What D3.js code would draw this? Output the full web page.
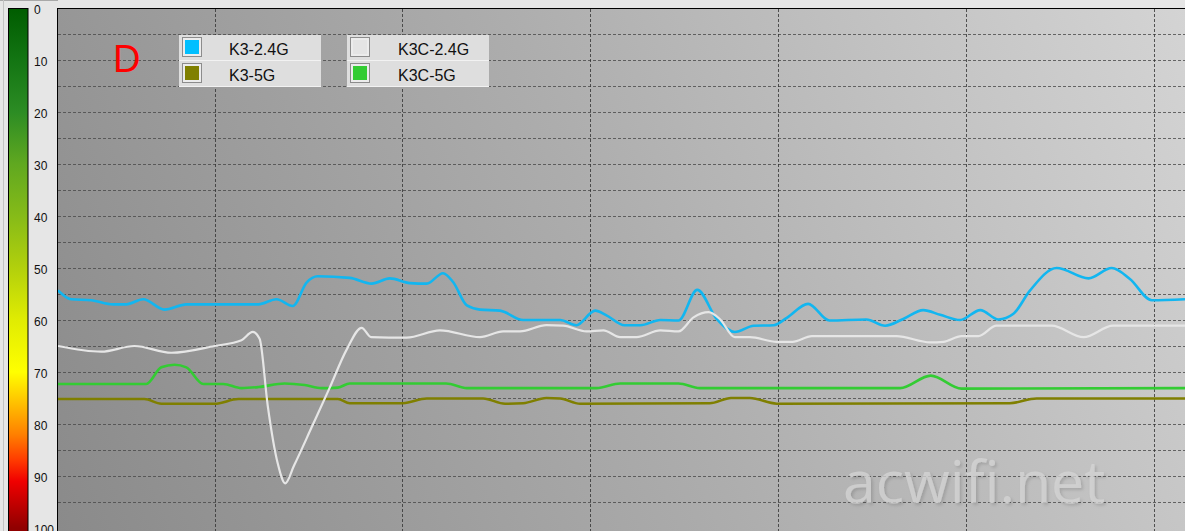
<!DOCTYPE html>
<html><head><meta charset="utf-8">
<script src="https://cdn.jsdelivr.net/npm/d3@7/dist/d3.min.js"></script>
<style>html,body{margin:0;padding:0;background:#e6e6e6;overflow:hidden}svg{display:block}</style>
</head><body><svg id="c" width="1185" height="531"></svg>
<script>
// ---- data (time in s, signal value) ----
const seriesNames = ["K3-2.4G", "K3C-2.4G", "K3-5G", "K3C-5G"];
const yTickLabels = [0, 10, 20, 30, 40, 50, 60, 70, 80, 90, 100];
const yGridValues = [5,10,15,20,25,30,35,40,45,50,55,60,65,70,75,80,85,90,95];
const xGridTimes = [30, 60, 90, 120, 150, 180];
const panelLabel = "D";
const watermark = "acwifi.net";

const k3_24 = [[5,54.3],[7.1,56],[10.3,56.2],[13.8,57],[15.9,57],[18.6,56],[22,58],[25.5,57],[37,57],[39.9,56],[42.5,57.3],[44.7,52.8],[46.5,51.6],[51.6,51.9],[55.1,53],[58,52],[61.2,52.9],[63.9,53],[66.5,51],[68.1,52.7],[70.3,57.2],[72.4,58],[75.6,58.2],[79.3,60],[85.2,60],[87.8,61],[90.8,58.2],[92.6,59.1],[95.5,61],[98,61],[101.2,60],[104.1,60.1],[107.1,54.2],[110.2,59.8],[113.1,62.3],[116.1,61.1],[119.3,61],[121.4,59.6],[124.8,56.9],[128.2,60.1],[134.1,59.9],[137.1,61.1],[140,59.8],[143.2,58.1],[145.9,59],[149.1,60],[152.3,58.1],[155.2,59.9],[157.6,58.8],[160.2,54.4],[164.5,50],[169.6,52],[173.3,50],[176.2,52.1],[179.7,56.2],[185,56]];
const k3c_24 = [[5,65],[11.9,66.1],[17.2,65],[23.1,66.3],[30,65],[34.3,63.9],[36.1,62.3],[37.2,63.6],[38.5,76.5],[40.1,87.6],[41.3,91.4],[42.7,88],[45.6,80.4],[48.4,73],[51.1,65.7],[53.5,61.5],[55,63.3],[60.7,63.4],[66,62],[72.4,63.3],[76.1,62.2],[78.8,62.2],[83,61],[85.7,61.1],[89.4,62.2],[92.1,62],[94.8,63.3],[97.4,63.3],[101.2,62],[104.1,62.2],[106.5,59.5],[108.9,58.5],[110.7,59.8],[113.1,63.3],[115.5,63.3],[119.8,64.2],[122.3,64.2],[125.4,63.1],[138.9,63.1],[144.3,64.3],[146.4,64.2],[149.3,63.1],[152,63.1],[154.9,61.1],[163.7,61.1],[168.8,63.3],[173.5,61.1],[185,61.1]];
const k3_5 = [[5,75.2],[18.8,75.2],[21.5,76.1],[30,76.1],[33.8,75.2],[49.7,75.2],[51.6,76],[60.1,76],[63.9,75.1],[72.9,75.1],[76.4,76.1],[79.3,76],[83,75],[85.2,75.1],[88.4,76.1],[109.1,76],[112.5,75],[115.5,75],[119.8,76.1],[157,76],[161.3,75.1],[185,75.1]];
const k3c_5 = [[5,72.3],[19.1,72.3],[21.5,69.1],[23.6,68.6],[25.5,69.1],[28.2,72.3],[31.4,72.3],[34.3,73.1],[37,72.9],[41.2,72.2],[44.4,72.5],[47.1,73.1],[49.7,73],[51.6,72.2],[67,72.2],[70.3,73.1],[91,73.1],[94.8,72.2],[104.1,72.2],[107.5,73.1],[139.5,73.1],[144.4,70.7],[149.3,73.2],[185,73.1]];

// ---- layout / style ----
const W = 1185, H = 531;
const plotL = 57.5, plotT = 8.5;
const colors = {"K3-2.4G":"#12b6f0","K3C-2.4G":"#e6e6e6","K3-5G":"#7f7f00","K3C-5G":"#33cc33"};
const swatch = {"K3-2.4G":"#00bfff","K3C-2.4G":"#e4e4e4","K3-5G":"#808000","K3C-5G":"#33cc33"};

const svg = d3.select("#c");
const defs = svg.append("defs");

const x = d3.scaleLinear().domain([5, 185]).range([58, 1185]);
const y = d3.scaleLinear().domain([0, 100]).range([8, 528]);

// window frame bits
svg.append("rect").attr("x",0).attr("y",0).attr("width",W).attr("height",H).attr("fill","#e6e6e6");
svg.append("line").attr("x1",0).attr("x2",58).attr("y1",0.5).attr("y2",0.5).attr("stroke","#a8a8a8");
svg.append("line").attr("x1",3.5).attr("x2",3.5).attr("y1",0).attr("y2",H).attr("stroke","#c4c4c4");

// color bar gradient
const cg = defs.append("linearGradient").attr("id","cbar").attr("gradientUnits","userSpaceOnUse")
  .attr("x1",0).attr("x2",0).attr("y1",y(0)).attr("y2",y(100));
[[0,"#005c00"],[10,"#137513"],[20,"#2c8c24"],[30,"#60a820"],[40,"#86bb18"],[50,"#b2d00c"],[60,"#e0ec02"],[70,"#ffff00"],[76,"#ffc000"],[82,"#ff8000"],[87,"#ff3a00"],[91,"#f00000"],[100,"#900000"]]
  .forEach(([v,c]) => cg.append("stop").attr("offset", (v/100)).attr("stop-color", c));
svg.append("rect").attr("x",8.5).attr("y",8.5).attr("width",19.5).attr("height",540)
  .attr("fill","url(#cbar)").attr("stroke","#000");

// y labels
svg.append("g").selectAll("text").data(yTickLabels).join("text")
  .attr("x",34).attr("y",d => y(d)+1.5).attr("dominant-baseline","central")
  .attr("font-family","Liberation Sans, Arial, sans-serif").attr("font-size",12).attr("fill","#111")
  .text(d => d);

// plot background
const bg = defs.append("linearGradient").attr("id","pbg").attr("gradientUnits","userSpaceOnUse")
  .attr("x1",58).attr("y1",531).attr("x2",1185).attr("y2",8);
bg.append("stop").attr("offset",0).attr("stop-color","#8a8a8a");
bg.append("stop").attr("offset",0.5).attr("stop-color","#adadad");
bg.append("stop").attr("offset",1).attr("stop-color","#d4d4d4");
svg.append("rect").attr("x",plotL).attr("y",plotT).attr("width",1300).attr("height",600)
  .attr("fill","url(#pbg)").attr("stroke","#000");

defs.append("clipPath").attr("id","clip").append("rect")
  .attr("x",58).attr("y",9).attr("width",1200).attr("height",600);
const plot = svg.append("g").attr("clip-path","url(#clip)");

// grid
plot.append("g").selectAll("line").data(yGridValues).join("line")
  .attr("x1",58).attr("x2",W).attr("y1",d => Math.round(y(d))+0.5).attr("y2",d => Math.round(y(d))+0.5)
  .attr("stroke","#4a4a4a").attr("stroke-width",1).attr("stroke-dasharray","3,2").attr("opacity",0.8);
plot.append("g").selectAll("line").data(xGridTimes).join("line")
  .attr("y1",9).attr("y2",H).attr("x1",d => Math.round(x(d))+0.5).attr("x2",d => Math.round(x(d))+0.5)
  .attr("stroke","#333").attr("stroke-width",1).attr("stroke-dasharray","3,2").attr("opacity",0.8);

// watermark (single text with soft shadow)
const f = defs.append("filter").attr("id","wsh").attr("x","-5%").attr("y","-20%").attr("width","110%").attr("height","140%");
f.append("feDropShadow").attr("dx",2).attr("dy",2).attr("stdDeviation",1.5).attr("flood-color","#000").attr("flood-opacity",0.18);
plot.append("text").attr("x",843).attr("y",503).attr("font-family","Open Sans, sans-serif").attr("font-size",59)
  .attr("fill","#d6d6d6").attr("fill-opacity",0.75).attr("filter","url(#wsh)").text(watermark);

// lines
const line = d3.line().x(d => x(d[0])).y(d => y(d[1])).curve(d3.curveMonotoneX);
const series = [["K3-2.4G",k3_24],["K3-5G",k3_5],["K3C-5G",k3c_5],["K3C-2.4G",k3c_24]];
plot.append("g").selectAll("path").data(series).join("path")
  .attr("d", d => line(d[1])).attr("fill","none")
  .attr("stroke", d => colors[d[0]]).attr("stroke-width", d => d[0]==="K3C-2.4G" ? 2.2 : 2.6)
  .attr("stroke-linejoin","round");

// panel label
svg.append("text").attr("x",113).attr("y",72).attr("font-family","Liberation Sans, Arial, sans-serif")
  .attr("font-size",38).attr("fill","#ff0000").text(panelLabel);

// legend
const legendCols = [[seriesNames[0], seriesNames[2]], [seriesNames[1], seriesNames[3]]];
const lg = svg.append("g");
legendCols.forEach((col, ci) => {
  const bx = ci === 0 ? 179 : 347;
  col.forEach((name, ri) => {
    const by = 35 + ri * 26;
    const g = lg.append("g").attr("transform", `translate(${bx},${by})`);
    g.append("rect").attr("x",0).attr("y",0).attr("width",142).attr("height",25.5).attr("fill","#dedede");
    g.append("line").attr("x1",0).attr("x2",142).attr("y1",25.5).attr("y2",25.5).attr("stroke","#f2f2f2");
    g.append("rect").attr("x",3.5).attr("y",2.5).attr("width",19).attr("height",19).attr("fill","#ececec").attr("stroke","#8c8c8c");
    g.append("rect").attr("x",6).attr("y",5).attr("width",14).attr("height",14).attr("fill",swatch[name]);
    g.append("text").attr("x",ci===0 ? 50 : 51).attr("y",19.5).attr("font-family","Liberation Sans, Arial, sans-serif")
      .attr("font-size",16).attr("fill","#111").text(name);
  });
});
</script></body></html>
